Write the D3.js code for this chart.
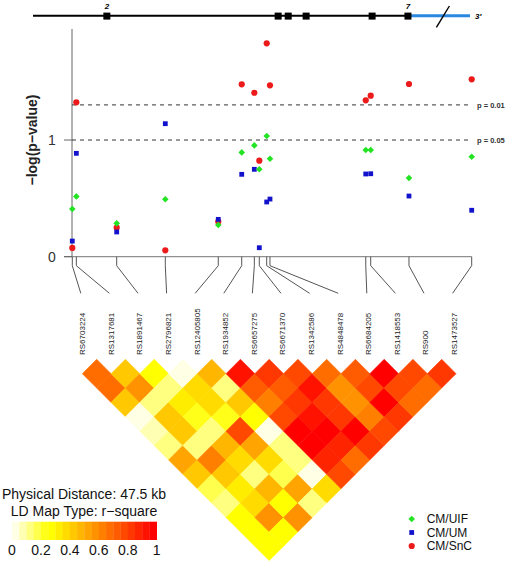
<!DOCTYPE html>
<html><head><meta charset="utf-8">
<script src="https://cdn.jsdelivr.net/npm/d3@7"></script>
<style>body{margin:0;background:#fff} svg{display:block}</style>
</head><body>
<svg id="chart" width="510" height="564"></svg>
<script>
// ---------------- data ----------------
const snps = ["RS6703224","RS1317681","RS1891467","RS2796821","RS12405805","RS1934852","RS6657275",
              "RS6671370","RS1342586","RS4848478","RS6684205","RS1418553","RS900","RS1473527"];
const positionsKb = [0, 0.48, 5.28, 11.06, 17.36, 20.15, 21.65, 22.24, 23.12, 23.51, 34.90, 35.49, 40.04, 47.5];
const seriesNames = ["CM/UIF","CM/UM","CM/SnC"];
const uif = [0.409, 0.517, 0.286, 0.492, 0.272, 0.894, 0.954, 0.749, 1.034, 0.840, 0.914, 0.914, 0.674, 0.857];
const um  = [0.134, 0.886, 0.212, 1.140, 0.320, 0.706, 0.749, 0.077, 0.469, 0.494, 0.709, 0.711, 0.520, 0.398];
const snc = [0.075, 1.323, 0.249, 0.055, 0.300, 1.477, 1.405, 0.823, 1.829, 1.469, 1.340, 1.380, 1.480, 1.520];
const yTicks = [0, 1];
const thresholds = [1.301, 1.0];
const thresholdLabels = ["p = 0.01", "p = 0.05"];
// r-square, row i holds pairs (i, i+1 .. 13)
const ldRows = [
  [0.67,0.67,0.42,0.02,0.08,0.10,0.50,0.40,0.15,0.10,0.27,0.27,0.27],
  [0.42,0.57,0.12,0.42,0.40,0.10,0.62,0.42,0.30,0.37,0.55,0.27],
  [0.27,0.10,0.32,0.20,0.10,0.45,0.35,0.10,0.45,0.27,0.55],
  [0.02,0.35,0.37,0.22,0.75,0.52,0.35,0.15,0.52,0.12],
  [0.45,0.10,0.42,0.27,0.02,0.10,0.10,0.02,0.35],
  [0.92,0.72,0.62,0.75,0.97,0.97,0.85,0.77],
  [0.82,0.70,0.82,0.92,0.97,0.85,0.67],
  [0.75,0.92,0.82,0.80,0.95,0.80],
  [0.67,0.55,0.55,0.62,0.77],
  [0.72,0.77,0.95,0.82],
  [0.95,0.77,0.67],
  [0.77,0.67],
  [0.82]
];
const legendTicks = [0, 0.2, 0.4, 0.6, 0.8, 1];
const physicalDistance = "Physical Distance: 47.5 kb";
const mapType = "LD Map Type: r\u2212square";
// gene diagram (relative positions along drawn gene)
const exonPos = [0.169, 0.561, 0.584, 0.625, 0.776, 0.858];
const exonLabels = ["2", "", "", "", "", "7"];
const utrStart = 0.858, breakPos = 0.938;

// ---------------- helpers ----------------
const FONT = "Arial, 'Liberation Sans', Helvetica, sans-serif";
const svg = d3.select("#chart");
function heatColors(n){
  const j = Math.floor(n/4), i = n - j, out = [];
  for (let k=0;k<i;k++){ const h = (k/(i-1))*60; out.push(d3.hsl(h,1,0.5).formatHex()); }
  const s0 = 1 - 1/(2*j), s1 = 1/(2*j);
  for (let k=0;k<j;k++){ const s = s0 + (s1-s0)*k/(j-1); out.push(d3.rgb(255,255,Math.round(255*(1-s))).formatHex()); }
  return out;
}
const palette = heatColors(20).reverse();
const color = d3.scaleQuantize().domain([0,1]).range(palette);

// ---------------- scales ----------------
const x = d3.scaleLinear().domain([0, 47.5]).range([72.3, 471.7]);
const y = d3.scaleLinear().domain([0, 1.943]).range([256.7, 30]);
const labelX = d3.scalePoint().domain(snps).range([82.3, 454.1]);
const cellX = d3.scalePoint().domain(d3.range(snps.length)).range([82.3, 456.05]);
const heatTop = 359.3;

// ---------------- gene structure ----------------
const gx = d3.scaleLinear().domain([0,1]).range([33, 470]);
const gy = 15.8;
const g0 = svg.append("g");
g0.append("line").attr("x1", gx(0)).attr("x2", gx(utrStart)).attr("y1", gy).attr("y2", gy)
  .attr("stroke", "#000").attr("stroke-width", 2);
g0.append("line").attr("x1", gx(utrStart)).attr("x2", gx(1)).attr("y1", gy).attr("y2", gy)
  .attr("stroke", "#2a88e0").attr("stroke-width", 3);
g0.selectAll("rect.exon").data(exonPos).join("rect").attr("class","exon")
  .attr("x", d => gx(d)-3.5).attr("y", gy-3.2).attr("width", 7).attr("height", 7).attr("fill", "#000");
g0.selectAll("text.ex").data(exonPos).join("text").attr("class","ex")
  .attr("x", d => gx(d)).attr("y", 9).attr("text-anchor","middle")
  .attr("font-family", FONT).attr("font-size", 8).attr("font-weight","bold").attr("font-style","italic")
  .text((d,i) => exonLabels[i]);
g0.append("line").attr("x1", gx(breakPos)-6.5).attr("y1", 27.3).attr("x2", gx(breakPos)+6.5).attr("y2", 6)
  .attr("stroke","#000").attr("stroke-width",1.4);
g0.append("text").attr("x", gx(1)+5).attr("y", 19).attr("font-family", FONT).attr("font-size", 8)
  .attr("font-weight","bold").attr("font-style","italic").text("3\u2032");

// ---------------- association plot ----------------
const gp = svg.append("g");
gp.append("line").attr("x1", 72).attr("x2", 72).attr("y1", 29).attr("y2", y(0)).attr("stroke","#666").attr("stroke-width",1);
gp.append("line").attr("x1", 64).attr("x2", 471.7).attr("y1", y(0)).attr("y2", y(0)).attr("stroke","#777").attr("stroke-width",1);
gp.selectAll("line.tick").data(yTicks).join("line").attr("class","tick")
  .attr("x1", 64).attr("x2", 72).attr("y1", d=>y(d)).attr("y2", d=>y(d)).attr("stroke","#666");
gp.selectAll("text.tl").data(yTicks).join("text").attr("class","tl")
  .attr("x", 52).attr("y", d=>y(d)).attr("dy","0.36em").attr("text-anchor","middle")
  .attr("font-family", FONT).attr("font-size", 14).attr("fill","#333").text(d=>d);
gp.append("text").attr("transform", `translate(37,${y(1)}) rotate(-90)`).attr("text-anchor","middle")
  .attr("font-family", FONT).attr("font-size", 14).attr("font-weight","bold").attr("fill","#222")
  .text("\u2212log(p\u2212value)");
gp.selectAll("line.thr").data(thresholds).join("line").attr("class","thr")
  .attr("x1", 72).attr("x2", 471).attr("y1", d=>y(d)).attr("y2", d=>y(d))
  .attr("stroke","#333").attr("stroke-dasharray","4,4").attr("stroke-width",1);
gp.selectAll("text.thr").data(thresholds).join("text").attr("class","thr")
  .attr("x", 477).attr("y", d=>y(d)).attr("dy","0.35em")
  .attr("font-family", FONT).attr("font-size", 7.5).attr("font-weight","bold").attr("fill","#333")
  .text((d,i)=>thresholdLabels[i]);
gp.selectAll("path.conn").data(snps).join("path").attr("class","conn")
  .attr("d", (d,i) => `M${x(positionsKb[i])},${y(0)}V265.7L${labelX(d)-1.5},293.3`)
  .attr("fill","none").attr("stroke","#555").attr("stroke-width",1);
gp.selectAll("text.snp").data(snps).join("text").attr("class","snp")
  .attr("transform", d => `translate(${labelX(d)},355) rotate(-90)`).attr("dy","0.35em")
  .attr("font-family", FONT).attr("font-size", 8).attr("fill","#222").text(d=>d);

const redC = "#ec1a1a", blueC = "#1212cc", greenC = "#22e422";
gp.selectAll("circle.snc").data(snc).join("circle").attr("class","snc")
  .attr("cx",(d,i)=>x(positionsKb[i])).attr("cy",d=>y(d)).attr("r",3.1).attr("fill",redC);
gp.selectAll("rect.um").data(um).join("rect").attr("class","um")
  .attr("x",(d,i)=>x(positionsKb[i])-2.4).attr("y",d=>y(d)-2.4).attr("width",4.8).attr("height",4.8).attr("fill",blueC);
const diamond = (cx, cy, h) => `M${cx},${cy-h}L${cx+h},${cy}L${cx},${cy+h}L${cx-h},${cy}Z`;
gp.selectAll("path.uif").data(uif).join("path").attr("class","uif")
  .attr("d",(d,i)=>diamond(x(positionsKb[i]), y(d), 3.3)).attr("fill",greenC);

// ---------------- LD heatmap ----------------
const cells = [];
ldRows.forEach((row, i) => row.forEach((v, k) => cells.push({i, j: i+k+1, v})));
const h = (cellX(1) - cellX(0)) / 2;
svg.append("g").selectAll("path").data(cells).join("path")
  .attr("d", c => {
    const cx = (cellX(c.i) + cellX(c.j)) / 2;
    const cy = heatTop + (cellX(c.j) - cellX(c.i)) / 2;
    return diamond(cx, cy, h);
  })
  .attr("fill", c => color(c.v)).attr("stroke", c => color(c.v)).attr("stroke-width", 0.6);

// ---------------- colour legend ----------------
const lg = svg.append("g");
const lx = d3.scaleLinear().domain([0,1]).range([12, 156.7]);
lg.append("text").attr("x", 84).attr("y", 494).attr("dy","0.35em").attr("text-anchor","middle")
  .attr("font-family", FONT).attr("font-size", 14).attr("fill","#111").text(physicalDistance);
lg.append("text").attr("x", 84).attr("y", 511.5).attr("dy","0.35em").attr("text-anchor","middle")
  .attr("font-family", FONT).attr("font-size", 14).attr("fill","#111").text(mapType);
lg.selectAll("rect").data(palette).join("rect")
  .attr("x",(d,i)=>lx(i/20)).attr("y",521.7).attr("width",lx(0.05)-lx(0)+0.3).attr("height",18.3)
  .attr("fill", d=>d);
lg.selectAll("text.lt").data(legendTicks).join("text").attr("class","lt")
  .attr("x", d=>lx(d)).attr("y", 550.5).attr("dy","0.35em").attr("text-anchor","middle")
  .attr("font-family", FONT).attr("font-size", 14).attr("fill","#111").text(d=>d);

// ---------------- series legend ----------------
const sl = svg.append("g");
const legY = [519, 532.5, 546];
const legCol = [greenC, blueC, redC];
sl.selectAll("text").data(seriesNames).join("text")
  .attr("x", 426.7).attr("y",(d,i)=>legY[i]).attr("dy","0.36em")
  .attr("font-family", FONT).attr("font-size", 12).attr("fill","#111").text(d=>d);
sl.append("path").attr("d", diamond(411.7, legY[0], 3.3)).attr("fill", legCol[0]);
sl.append("rect").attr("x", 411.7-2.4).attr("y", legY[1]-2.4).attr("width",4.8).attr("height",4.8).attr("fill", legCol[1]);
sl.append("circle").attr("cx", 411.7).attr("cy", legY[2]).attr("r",3.1).attr("fill", legCol[2]);
</script>
</body></html>
